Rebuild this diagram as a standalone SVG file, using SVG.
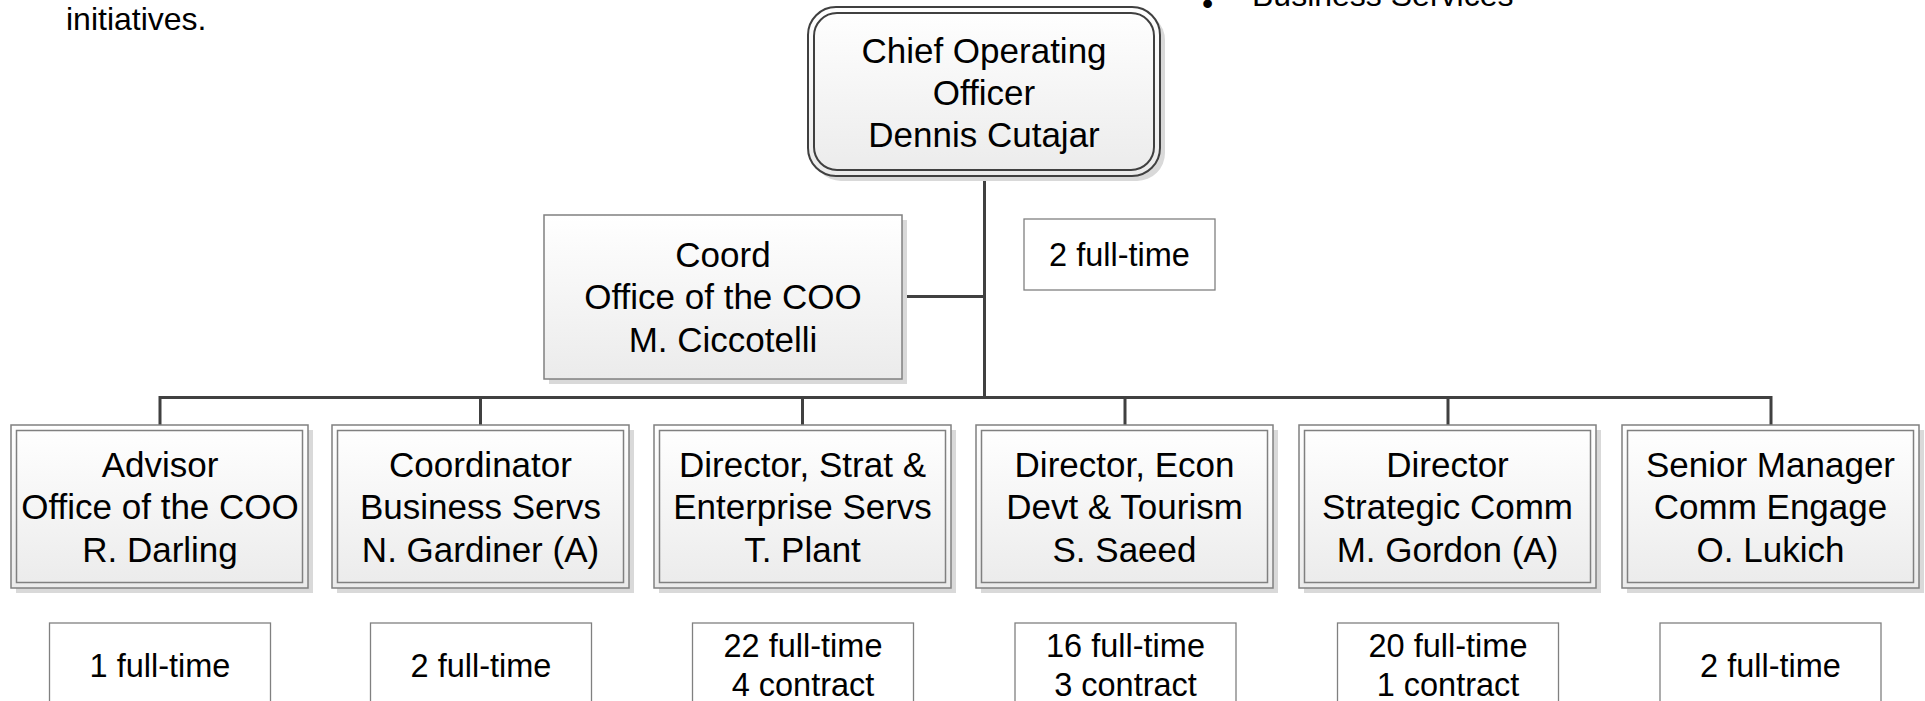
<svg xmlns="http://www.w3.org/2000/svg" width="1925" height="701" viewBox="0 0 1925 701">
<defs>
<linearGradient id="g" x1="0" y1="0" x2="0" y2="1">
<stop offset="0" stop-color="#ffffff"/>
<stop offset="1" stop-color="#ebebeb"/>
</linearGradient>
<style>
text{font-family:"Liberation Sans",Arial,sans-serif;fill:#000;text-anchor:middle}
.t{font-size:35px}
.s{font-size:32.5px}
.free{font-size:32px;text-anchor:start}
.sh{fill:#d9d9d9}
.outer{fill:url(#g);stroke:#808080;stroke-width:1.5}
.inner{fill:none;stroke:#808080;stroke-width:1.5}
.staff{fill:#fff;stroke:#808080;stroke-width:1.3}
.conn{fill:none;stroke:#404040;stroke-width:3}
</style>
</defs>
<rect width="1925" height="701" fill="#fff"/>

<text class="free" x="66" y="29.5">initiatives.</text>
<text class="free" x="1202" y="14">•</text>
<text class="free" x="1252" y="6">Business Services</text>

<g id="connectors">
<path class="conn" d="M984.5 176V397.5"/>
<path class="conn" d="M902 296.5H984.5"/>
<path class="conn" d="M160 425V397.5H1771V425"/>
<path class="conn" d="M480.5 397.5V425M802.5 397.5V425M1125 397.5V425M1448 397.5V425"/>
</g>

<g id="coo">
<rect class="sh" x="813" y="12" width="352" height="169" rx="28"/>
<rect x="808" y="7" width="352" height="169" rx="28" fill="url(#g)" stroke="#404040" stroke-width="2"/>
<rect x="814" y="13" width="340" height="157" rx="23" fill="none" stroke="#404040" stroke-width="2"/>
<text class="t" x="984" y="62.5">Chief Operating</text>
<text class="t" x="984" y="104.5">Officer</text>
<text class="t" x="984" y="146.5">Dennis Cutajar</text>
</g>

<g id="coord">
<rect class="sh" x="549" y="220" width="358" height="164"/>
<rect class="outer" x="544" y="215" width="358" height="164"/>
<text class="t" x="723" y="266.5">Coord</text>
<text class="t" x="723" y="309">Office of the COO</text>
<text class="t" x="723" y="351.5">M. Ciccotelli</text>
</g>

<g id="coo-staff">
<rect class="staff" x="1024" y="219" width="191" height="71"/>
<text class="s" x="1119.5" y="266">2 full-time</text>
</g>

<g id="advisor">
<rect class="sh" x="16" y="430" width="297" height="163"/>
<rect class="outer" x="11" y="425" width="297" height="163"/>
<rect class="inner" x="16.5" y="430.5" width="286" height="152"/>
<text class="t" x="160" y="476.5">Advisor</text>
<text class="t" x="160" y="519">Office of the COO</text>
<text class="t" x="160" y="561.5">R. Darling</text>
</g>

<g id="bizservs">
<rect class="sh" x="337" y="430" width="297" height="163"/>
<rect class="outer" x="332" y="425" width="297" height="163"/>
<rect class="inner" x="337.5" y="430.5" width="286" height="152"/>
<text class="t" x="480.5" y="476.5">Coordinator</text>
<text class="t" x="480.5" y="519">Business Servs</text>
<text class="t" x="480.5" y="561.5">N. Gardiner (A)</text>
</g>

<g id="strat">
<rect class="sh" x="659" y="430" width="297" height="163"/>
<rect class="outer" x="654" y="425" width="297" height="163"/>
<rect class="inner" x="659.5" y="430.5" width="286" height="152"/>
<text class="t" x="802.5" y="476.5">Director, Strat &amp;</text>
<text class="t" x="802.5" y="519">Enterprise Servs</text>
<text class="t" x="802.5" y="561.5">T. Plant</text>
</g>

<g id="econ">
<rect class="sh" x="981" y="430" width="297" height="163"/>
<rect class="outer" x="976" y="425" width="297" height="163"/>
<rect class="inner" x="981.5" y="430.5" width="286" height="152"/>
<text class="t" x="1124.5" y="476.5">Director, Econ</text>
<text class="t" x="1124.5" y="519">Devt &amp; Tourism</text>
<text class="t" x="1124.5" y="561.5">S. Saeed</text>
</g>

<g id="stratcomm">
<rect class="sh" x="1304" y="430" width="297" height="163"/>
<rect class="outer" x="1299" y="425" width="297" height="163"/>
<rect class="inner" x="1304.5" y="430.5" width="286" height="152"/>
<text class="t" x="1447.5" y="476.5">Director</text>
<text class="t" x="1447.5" y="519">Strategic Comm</text>
<text class="t" x="1447.5" y="561.5">M. Gordon (A)</text>
</g>

<g id="commengage">
<rect class="sh" x="1627" y="430" width="297" height="163"/>
<rect class="outer" x="1622" y="425" width="297" height="163"/>
<rect class="inner" x="1627.5" y="430.5" width="286" height="152"/>
<text class="t" x="1770.5" y="476.5">Senior Manager</text>
<text class="t" x="1770.5" y="519">Comm Engage</text>
<text class="t" x="1770.5" y="561.5">O. Lukich</text>
</g>

<g id="staff-advisor">
<rect class="staff" x="49.5" y="623" width="221" height="100"/>
<text class="s" x="160" y="677">1 full-time</text>
</g>
<g id="staff-bizservs">
<rect class="staff" x="370.5" y="623" width="221" height="100"/>
<text class="s" x="481" y="677">2 full-time</text>
</g>
<g id="staff-strat">
<rect class="staff" x="692.5" y="623" width="221" height="100"/>
<text class="s" x="803" y="657">22 full-time</text>
<text class="s" x="803" y="695.5">4 contract</text>
</g>
<g id="staff-econ">
<rect class="staff" x="1015" y="623" width="221" height="100"/>
<text class="s" x="1125.5" y="657">16 full-time</text>
<text class="s" x="1125.5" y="695.5">3 contract</text>
</g>
<g id="staff-stratcomm">
<rect class="staff" x="1337.5" y="623" width="221" height="100"/>
<text class="s" x="1448" y="657">20 full-time</text>
<text class="s" x="1448" y="695.5">1 contract</text>
</g>
<g id="staff-commengage">
<rect class="staff" x="1660" y="623" width="221" height="100"/>
<text class="s" x="1770.5" y="677">2 full-time</text>
</g>
</svg>
